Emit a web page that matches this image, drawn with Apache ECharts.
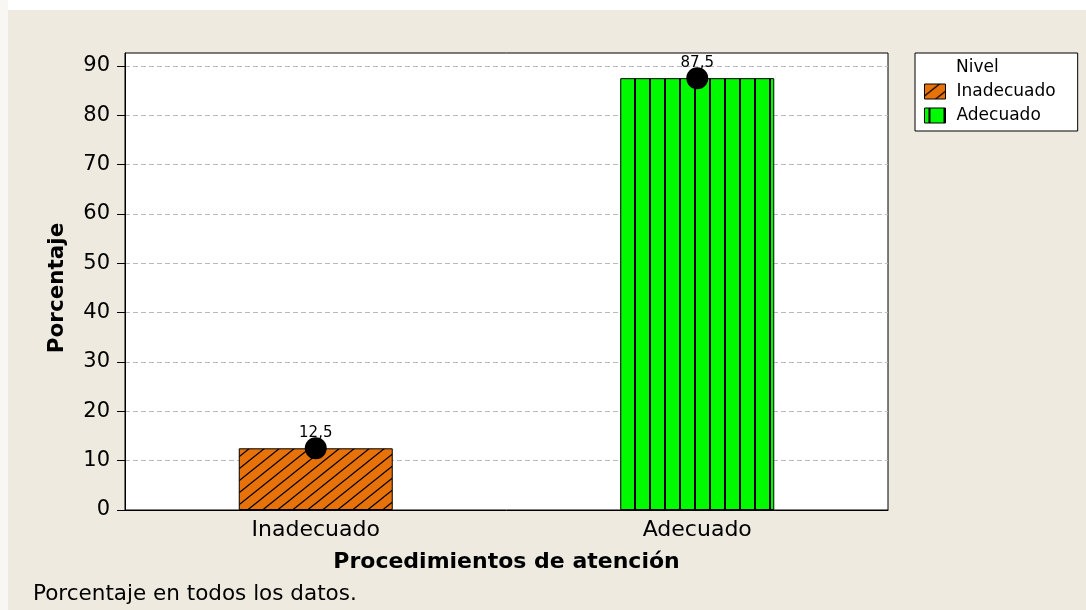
<!DOCTYPE html>
<html>
<head>
<meta charset="utf-8">
<script src="https://cdn.jsdelivr.net/npm/echarts@6/dist/echarts.min.js"></script>
<style>
html,body{margin:0;padding:0;background:#fff;}
#chart{width:1086px;height:610px;}
</style>
</head>
<body>
<div id="chart"></div>
<script>
const categories = ['Inadecuado', 'Adecuado'];
const seriesNames = ['Inadecuado', 'Adecuado'];
const inadecuadoValues = [12.5, '-'];
const adecuadoValues = ['-', 87.5];
const pointValues = [12.5, 87.5];
const yTickValues = [0, 10, 20, 30, 40, 50, 60, 70, 80, 90];
const legendTitle = 'Nivel';
const xTitle = 'Procedimientos de atención';
const yTitle = 'Porcentaje';
const footerText = 'Porcentaje en todos los datos.';

function hatchPattern() {
  const c = document.createElement('canvas');
  c.width = 15; c.height = 12;
  const g = c.getContext('2d');
  g.fillStyle = '#E8720A';
  g.fillRect(0, 0, 15, 12);
  g.strokeStyle = '#000';
  g.lineWidth = 1.3;
  g.beginPath();
  g.moveTo(-1, 12.8); g.lineTo(16, -0.8);
  g.moveTo(-16, 12.8); g.lineTo(1, -0.8);
  g.moveTo(14, 12.8); g.lineTo(31, -0.8);
  g.stroke();
  return c;
}
function stripePattern() {
  const c = document.createElement('canvas');
  c.width = 15.3; c.height = 10;
  const g = c.getContext('2d');
  g.fillStyle = '#00FA00';
  g.fillRect(0, 0, 16, 10);
  g.fillStyle = '#000';
  g.fillRect(4, 0, 2, 10);
  return c;
}

const chart = echarts.init(document.getElementById('chart'), null, {renderer: 'canvas'});
const FONT = 'DejaVu Sans, Verdana, sans-serif';
const option = {
  backgroundColor: '#EEEAE0',
  animation: false,
  textStyle: {fontFamily: FONT, color: '#000'},
  grid: {
    left: 125, right: 198, top: 53, bottom: 100,
    show: true, backgroundColor: '#FFFFFF', borderColor: '#000', borderWidth: 1
  },
  legend: {
    data: seriesNames,
    orient: 'vertical',
    left: 915, top: 53,
    width: 162,
    padding: [30, 22, 7, 9],
    itemWidth: 21, itemHeight: 15, itemGap: 7,
    backgroundColor: '#FFFFFF', borderColor: '#000', borderWidth: 1,
    icon: 'rect',
    itemStyle: {borderColor: '#000', borderWidth: 1},
    textStyle: {fontFamily: FONT, fontSize: 17, color: '#000', padding: [0, 0, 0, 6]}
  },
  xAxis: {
    type: 'category',
    data: categories,
    axisLine: {lineStyle: {color: '#000', width: 1}},
    axisTick: {alignWithLabel: true, length: 6, lineStyle: {color: '#000'}},
    axisLabel: {fontSize: 22, color: '#000', margin: 9, fontFamily: FONT},
    name: xTitle,
    nameLocation: 'middle',
    nameGap: 41,
    nameTextStyle: {fontSize: 22, fontWeight: 'bold', color: '#000', fontFamily: FONT}
  },
  yAxis: {
    type: 'value',
    min: 0, max: 92.6, interval: 10,
    axisLine: {show: true, lineStyle: {color: '#000', width: 1}},
    axisTick: {show: true, length: 8, lineStyle: {color: '#000'}, customValues: yTickValues},
    axisLabel: {fontSize: 21, color: '#000', margin: 15, fontFamily: FONT, customValues: yTickValues},
    splitLine: {show: true, lineStyle: {color: '#BBBBBB', type: [5, 3], width: 1}},
    name: yTitle,
    nameLocation: 'middle',
    nameGap: 57,
    nameRotate: 90,
    nameTextStyle: {fontSize: 21.5, fontWeight: 'bold', color: '#000', fontFamily: FONT, padding: [0, 13, 0, 0]}
  },
  series: [
    {
      name: seriesNames[0], type: 'bar', stack: 'total', barWidth: 154,
      data: inadecuadoValues,
      itemStyle: {color: {image: hatchPattern(), repeat: 'repeat'}, borderColor: '#000', borderWidth: 1},
      label: {show: true, position: 'top', distance: 8, fontSize: 15, color: '#000', fontFamily: FONT,
        formatter: p => String(p.value).replace('.', ',')}
    },
    {
      name: seriesNames[1], type: 'bar', stack: 'total', barWidth: 154,
      data: adecuadoValues,
      itemStyle: {color: {image: stripePattern(), repeat: 'repeat'}, borderColor: '#000', borderWidth: 1},
      label: {show: true, position: 'top', distance: 8, fontSize: 15, color: '#000', fontFamily: FONT,
        formatter: p => String(p.value).replace('.', ',')}
    },
    {
      name: 'puntos', type: 'scatter', data: pointValues,
      symbol: 'circle', symbolSize: 22, z: 5,
      itemStyle: {color: '#000', opacity: 1}
    }
  ],
  graphic: [
    {type: 'rect', left: 0, top: 0, shape: {width: 1086, height: 10}, style: {fill: '#FFFFFF'}, silent: true, z: -10},
    {type: 'rect', left: 0, top: 0, shape: {width: 8, height: 610}, style: {fill: '#F8F7F3'}, silent: true, z: -10},
    {type: 'text', left: 956, top: 59, style: {text: legendTitle, fontSize: 17, fill: '#000', fontFamily: FONT}, z: 100},
    {type: 'text', left: 33, top: 583, style: {text: footerText, fontSize: 21.5, fill: '#000', fontFamily: FONT}, z: 100}
  ]
};
chart.setOption(option);
</script>
</body>
</html>
